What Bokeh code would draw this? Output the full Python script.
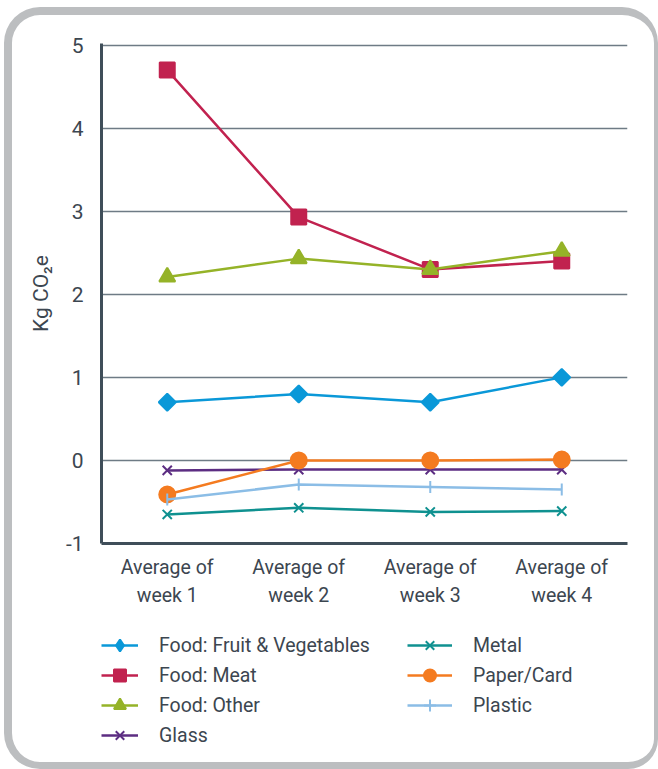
from bokeh.plotting import figure
from bokeh.layouts import column
from bokeh.models import FactorRange, Range1d, Legend, LegendItem, FixedTicker
from bokeh.embed import file_html
from bokeh.resources import INLINE
import math

weeks = ["Average of\nweek 1", "Average of\nweek 2", "Average of\nweek 3", "Average of\nweek 4"]
fruit_veg = [0.70, 0.80, 0.70, 1.00]
meat = [4.70, 2.93, 2.30, 2.40]
food_other = [2.21, 2.43, 2.30, 2.52]
glass = [-0.12, -0.11, -0.11, -0.11]
metal = [-0.65, -0.57, -0.62, -0.61]
paper = [-0.41, 0.00, 0.00, 0.01]
plastic = [-0.47, -0.29, -0.32, -0.35]
y_ticks = [-1, 0, 1, 2, 3, 4, 5]

FONT = "Roboto"
TXT = "#3c4650"

border_css = """
:host { position: relative; }
:host::after {
  content: "";
  position: absolute;
  left: 4px; top: 7px; right: 0px; bottom: 0px;
  border-style: solid;
  border-color: #bcbec0;
  border-width: 8px 4px 7px 8px;
  border-radius: 36px 36px 30px 36px;
  pointer-events: none;
  z-index: 100;
}
"""

MAIN_H = 610
LEG_H = 769 - MAIN_H

p = figure(x_range=FactorRange(*weeks), y_range=Range1d(-1, 5.02),
           width=658, height=MAIN_H, output_backend="svg", toolbar_location=None,
           min_border_left=101, min_border_right=31, min_border_top=43,
           min_border_bottom=MAIN_H - 544)
p.outline_line_color = None
p.background_fill_color = "white"
p.border_fill_color = "white"

p.xgrid.grid_line_color = None
p.ygrid.grid_line_color = "#6e7b85"
p.ygrid.grid_line_width = 1.5
p.yaxis.ticker = FixedTicker(ticks=y_ticks)
p.yaxis.major_label_overrides = {-1: "-1"}

for ax in (p.xaxis[0], p.yaxis[0]):
    ax.axis_line_color = "#3f4e59"
    ax.axis_line_width = 3
    ax.major_tick_line_color = None
    ax.minor_tick_line_color = None
    ax.major_label_text_font = FONT
    ax.major_label_text_color = TXT

p.yaxis.major_label_text_font_size = "21px"
p.yaxis.major_label_standoff = 12
p.yaxis.axis_label = "Kg CO₂e"
p.yaxis.axis_label_text_font = FONT
p.yaxis.axis_label_text_font_style = "normal"
p.yaxis.axis_label_text_font_size = "21px"
p.yaxis.axis_label_text_color = TXT
p.yaxis.axis_label_standoff = 10

p.xaxis.major_label_text_font_size = "19.5px"
p.xaxis.major_label_text_line_height = 1.24
p.xaxis.major_label_standoff = 6
p.xaxis.major_label_orientation = "horizontal"

# name, values, colour, chart marker, size, chart extras, legend marker
series = [
    ("Food: Fruit & Vegetables", fruit_veg, "#0a98d8", "square", 12, {"angle": math.pi / 4}, "diamond"),
    ("Food: Meat", meat, "#c1224f", "square", 15, {}, "square"),
    ("Food: Other", food_other, "#95b328", "triangle", 16, {}, "triangle"),
    ("Glass", glass, "#5c2d82", "x", 13, {}, "x"),
    ("Metal", metal, "#0f9190", "x", 13, {}, "x"),
    ("Paper/Card", paper, "#f47b20", "circle", 16, {}, "circle"),
    ("Plastic", plastic, "#8bbde6", "dash", 12, {"angle": math.pi / 2}, "cross"),
]

# legend figure (below the chart); its frame is aligned with the chart frame
lp = figure(width=658, height=LEG_H, x_range=Range1d(0, 1), y_range=Range1d(0, 1),
            x_axis_type=None, y_axis_type=None, output_backend="svg",
            toolbar_location=None, min_border=0)
lp.outline_line_color = None
lp.grid.grid_line_color = None
lp.background_fill_color = "white"
lp.border_fill_color = "white"

# off-screen anchor point so that legend glyphs are drawn (hidden outside the frame)
hidden_x = [-5, -6]
hidden_y = [-5, -6]

items = []
for name, vals, col, marker, size, extra, leg_marker in series:
    p.line(weeks, vals, line_color=col, line_width=2.5)
    p.scatter(weeks, vals, marker=marker, size=size, fill_color=col,
              line_color=col, line_width=2, **extra)
    ln = lp.line(hidden_x, hidden_y, line_color=col, line_width=2.5)
    sc = lp.scatter(hidden_x, hidden_y, marker=leg_marker, size=size, fill_color=col,
                    line_color=col, line_width=2)
    items.append(LegendItem(label=name, renderers=[ln, sc]))

def make_legend(its, loc, gw):
    return Legend(items=its, location=loc, orientation="vertical",
                  padding=0, margin=0, spacing=0, glyph_width=gw, glyph_height=30,
                  label_height=30, label_standoff=21,
                  label_text_font=FONT, label_text_font_size="19.5px",
                  label_text_color=TXT, border_line_alpha=0, background_fill_alpha=0)

lp.add_layout(make_legend(items[:4], (0, LEG_H - 140), 37))
lp.add_layout(make_legend(items[4:], (306, LEG_H - 110), 45))

layout = column(p, lp, spacing=0, stylesheets=[border_css])

open("out.html", "w").write(file_html(layout, INLINE))
